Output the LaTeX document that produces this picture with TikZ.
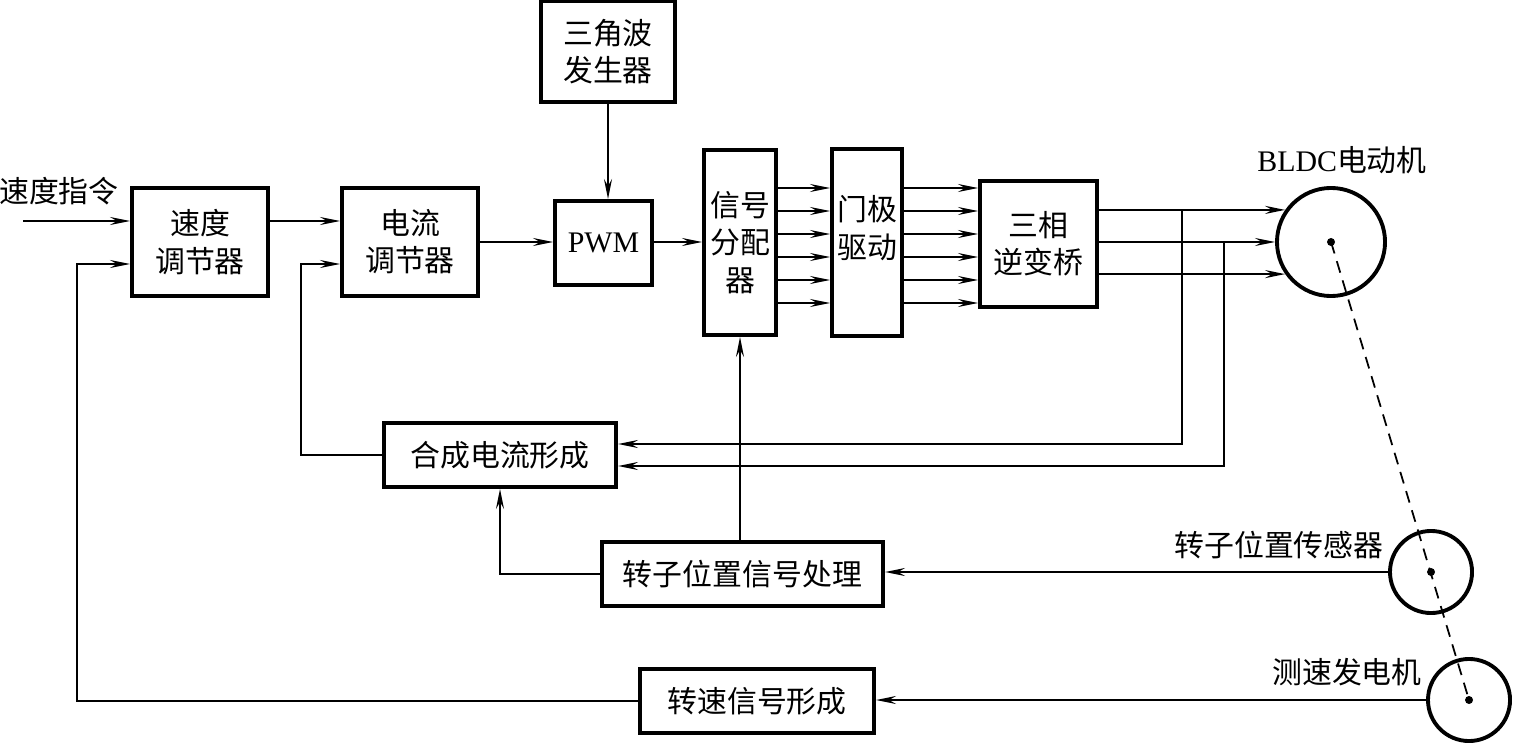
\documentclass[tikz,border=0pt]{standalone}
\usepackage{fontspec}
\setmainfont{Liberation Serif}
\newfontfamily\cjk{Noto Sans CJK SC}
\usetikzlibrary{arrows.meta,calc,positioning}
\newcommand\blockfont{\cjk\fontsize{8.5}{10.6}\selectfont}
\newcommand\latinfont{\rmfamily\fontsize{8.5}{10.6}\selectfont}
\tikzset{
  block/.style={draw,line width=1.1pt,inner sep=0pt,align=center,font=\blockfont},
  conn/.style={-{Stealth[length=0.2cm,width=0.08cm,inset=0.07cm]},line width=0.55pt},
  wire/.style={line width=0.5pt},
  machine/.style={draw,circle,line width=1.1pt,inner sep=0pt},
  dot/.style={circle,fill,inner sep=0pt,minimum size=0.08cm},
  lbl/.style={inner sep=0pt,font=\blockfont}
}
\begin{document}
\begin{tikzpicture}[x=0.01cm,y=-0.01cm]
\useasboundingbox (0,0) rectangle (1513,743);
% forward path blocks
\node[block,minimum width=1.36cm,minimum height=1.08cm] (spd) at (200,242) {速度\\调节器};
\node[block,minimum width=1.36cm,minimum height=1.08cm] (cur) at (410,242) {电流\\调节器};
\node[block,minimum width=1.34cm,minimum height=1.01cm] (tri) at (608,51.5) {三角波\\发生器};
\node[block,font=\latinfont,minimum width=0.97cm,minimum height=0.84cm] (pwm) at (603.5,243) {PWM};
\node[block,minimum width=0.72cm,minimum height=1.85cm] (dist) at (740,242.5) {信号\\分配\\器};
\node[block,minimum width=0.70cm,minimum height=1.87cm] (gate) at (867,242.5) {};
\node[lbl,align=center] at (867,228) {门极\\驱动};
\node[block,minimum width=1.17cm,minimum height=1.26cm] (inv) at (1038.5,244) {三相\\逆变桥};
% feedback blocks
\node[block,minimum width=2.32cm,minimum height=0.64cm] (syn) at (500,455) {合成电流形成};
\node[block,minimum width=2.81cm,minimum height=0.64cm] (rpos) at (742.5,574) {转子位置信号处理};
\node[block,minimum width=2.34cm,minimum height=0.64cm] (tach) at (757,701) {转速信号形成};
% machines
\node[machine,minimum size=1.08cm] (motor) at (1331,242) {};
\node[machine,minimum size=0.82cm] (sensor) at (1431,572) {};
\node[machine,minimum size=0.82cm] (tgen) at (1469,700) {};
\node[dot] at (motor.center) {};
\node[dot] at (sensor.center) {};
\node[dot] at (tgen.center) {};
\draw[wire,dash pattern=on 0.12cm off 0.08cm] (motor.center) -- (tgen.center);
% labels
\node[lbl] (cmd) at (59,191) {速度指令};
\node[lbl] (motorlbl) at (1342,160) {\latinfont BLDC\blockfont 电动机};
\node[lbl] (sensorlbl) at (1279,545) {转子位置传感器};
\node[lbl] (tgenlbl) at (1347,672) {测速发电机};
% forward connections
\coordinate (in) at (23,221);
\draw[conn] (in) -- (spd.west |- in);
\draw[conn] (spd.east |- in) -- (cur.west |- in);
\draw[conn] (cur.east) -- (pwm.west |- cur.east);
\draw[conn] (tri.south) -- (tri.south |- pwm.north);
\draw[conn] (pwm.east |- cur.east) -- (dist.west |- cur.east);
\foreach \y in {188,211,234,257,280,303}{
  \draw[conn] (dist.east |- 0,\y) -- (gate.west |- 0,\y);
  \draw[conn] (gate.east |- 0,\y) -- (inv.west |- 0,\y);
}
\draw[conn,line width=0.7pt] (inv.east |- motor.145) -- (motor.145);
\draw[conn,line width=0.7pt] (inv.east |- motor.west) -- (motor.west);
\draw[conn,line width=0.7pt] (inv.east |- motor.215) -- (motor.215);
% current feedback
\coordinate (tapA) at (1182,211);
\coordinate (tapB) at (1224,242);
\draw[conn] (tapA) |- (syn.east |- 0,444);
\draw[conn] (tapB) |- (syn.east |- 0,466);
\draw[conn] (syn.west) -| (301,264) -- (cur.west |- 0,264);
% rotor position
\draw[conn] (sensor.west) -- (rpos.east |- sensor.west);
\draw[conn] (rpos.west) -| (syn.south);
\draw[conn] (dist.south |- rpos.north) -- (dist.south);
% speed feedback
\draw[conn] (tgen.west) -- (tach.east |- tgen.west);
\draw[conn] (tach.west) -| (77,264) -- (spd.west |- 0,264);
\end{tikzpicture}
\end{document}
